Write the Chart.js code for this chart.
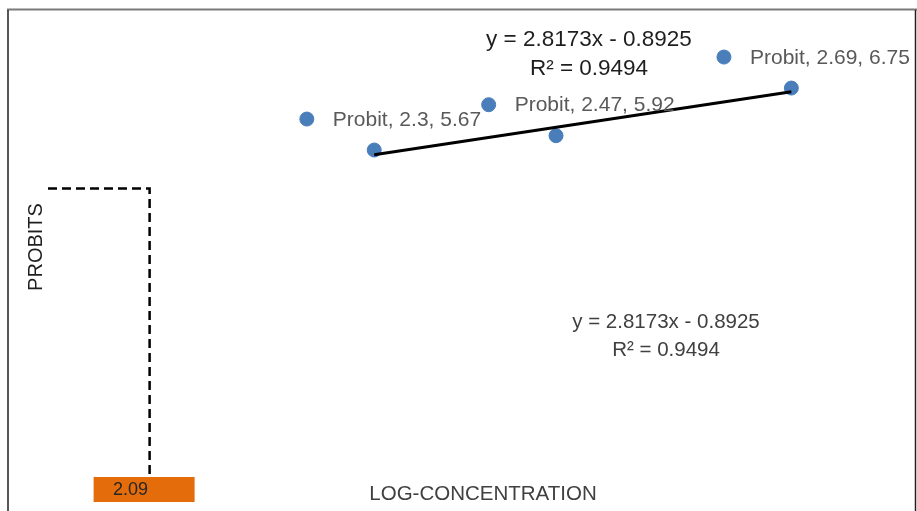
<!DOCTYPE html>
<html>
<head>
<meta charset="utf-8">
<script src="https://cdn.jsdelivr.net/npm/chart.js@4.4.1/dist/chart.umd.min.js"></script>
<style>
  html, body { margin: 0; padding: 0; background: #fff; }
  #wrap { position: relative; width: 917px; height: 511px; }
</style>
</head>
<body>
<div id="wrap"><canvas id="probitChart"></canvas></div>
<script>
// Probit regression data
const seriesName = 'Probit';
const logConc = [2.3, 2.47, 2.69];
const probits = [5.67, 5.92, 6.75];

// Fitted line y = slope * x + intercept
const slope = 2.8173;
const intercept = -0.8925;
const rSquared = 0.9494;

// LC50 read-off: probit 5 -> log concentration
const probitMid = 5;
const lc50Log = 2.09;

// Axis ranges
const xRange = [1.995, 2.8];
const yRange = [0, 8];
// Offset axes used by the labelled copy of the points
const xRangeLabelled = [2.058, 2.863];
const yRangeLabelled = [-0.54, 7.46];

const FONT = "'Liberation Sans', Arial, sans-serif";

const points = logConc.map((x, i) => ({ x, y: probits[i] }));
const trendEnds = [logConc[0], logConc[logConc.length - 1]];
const trendPoints = trendEnds.map(x => ({ x, y: slope * x + intercept }));
const lc50Path = [
    { x: xRange[0], y: probitMid },
    { x: lc50Log, y: probitMid },
    { x: lc50Log, y: yRange[0] },
];

const eqText = `y = ${slope}x - ${Math.abs(intercept)}`;
const r2Text = `R\u00B2 = ${rSquared}`;

const overlay = {
    id: 'overlay',
    beforeDraw(chart) {
        const ctx = chart.ctx;
        ctx.save();
        ctx.fillStyle = '#fff';
        ctx.fillRect(0, 0, chart.width, chart.height);
        // frame
        ctx.strokeStyle = '#7a7a7a';
        ctx.lineWidth = 2;
        ctx.beginPath();
        ctx.moveTo(7, 9.5);
        ctx.lineTo(917, 9.5);
        ctx.stroke();
        ctx.strokeStyle = '#202020';
        ctx.lineWidth = 1.5;
        ctx.beginPath();
        ctx.moveTo(8, 10);
        ctx.lineTo(8, 511);
        ctx.moveTo(915.5, 10);
        ctx.lineTo(915.5, 511);
        ctx.stroke();
        ctx.restore();
    },
    afterDatasetsDraw(chart) {
        const ctx = chart.ctx;
        const xs = chart.scales.x;
        ctx.save();

        // data labels next to the labelled points
        ctx.font = `21px ${FONT}`;
        ctx.fillStyle = '#595959';
        ctx.textAlign = 'left';
        ctx.textBaseline = 'middle';
        chart.getDatasetMeta(2).data.forEach((pt, i) => {
            ctx.fillText(`${seriesName}, ${logConc[i]}, ${probits[i]}`, pt.x + 26, pt.y + 1);
        });

        // trendline equations
        ctx.textAlign = 'center';
        ctx.font = `22.5px ${FONT}`;
        ctx.fillStyle = '#1e1e1e';
        ctx.fillText(eqText, 589, 40);
        ctx.fillText(r2Text, 589, 69);
        ctx.font = `20.5px ${FONT}`;
        ctx.fillStyle = '#404040';
        ctx.fillText(eqText, 666, 322);
        ctx.fillText(r2Text, 666, 350);

        // axis titles
        ctx.fillStyle = '#404040';
        ctx.font = `20.5px ${FONT}`;
        ctx.fillText('LOG-CONCENTRATION', 483, 494);
        ctx.save();
        ctx.translate(36, 247);
        ctx.rotate(-Math.PI / 2);
        ctx.fillStyle = '#1e1e1e';
        ctx.font = `20px ${FONT}`;
        ctx.fillText('PROBITS', 0, 0);
        ctx.restore();

        // LC50 value box
        const px = xs.getPixelForValue(lc50Log);
        ctx.fillStyle = '#e46c0a';
        ctx.fillRect(px - 56, 477, 101, 25);
        ctx.fillStyle = '#262626';
        ctx.font = `18px ${FONT}`;
        ctx.fillText(lc50Log.toFixed(2), px - 19, 490);

        ctx.restore();
    }
};

new Chart(document.getElementById('probitChart'), {
    type: 'scatter',
    data: {
        datasets: [
            {
                label: 'Linear (Probit)',
                data: trendPoints,
                showLine: true,
                borderColor: '#000',
                borderWidth: 3,
                pointRadius: 0,
                order: 0,
            },
            {
                label: seriesName,
                data: points,
                backgroundColor: '#4a7ebb',
                borderColor: '#4a7ebb',
                pointRadius: 7,
                order: 1,
            },
            {
                label: seriesName + ' (labelled)',
                data: points,
                xAxisID: 'x2',
                yAxisID: 'y2',
                backgroundColor: '#4a7ebb',
                borderColor: '#4a7ebb',
                pointRadius: 7,
                order: 1,
            },
            {
                label: 'LC50',
                data: lc50Path,
                showLine: true,
                borderColor: '#000',
                borderWidth: 2.5,
                borderDash: [9, 5],
                pointRadius: 0,
                clip: false,
                order: 2,
            },
        ],
    },
    options: {
        responsive: true,
        maintainAspectRatio: false,
        animation: false,
        events: [],
        layout: {
            padding: { left: 48, right: 3.3, top: 16.3, bottom: 35.5 },
        },
        plugins: {
            legend: { display: false },
            tooltip: { enabled: false },
        },
        scales: {
            x: { type: 'linear', display: false, min: xRange[0], max: xRange[1] },
            y: { type: 'linear', display: false, min: yRange[0], max: yRange[1] },
            x2: { type: 'linear', display: false, min: xRangeLabelled[0], max: xRangeLabelled[1] },
            y2: { type: 'linear', display: false, min: yRangeLabelled[0], max: yRangeLabelled[1] },
        },
    },
    plugins: [overlay],
});
</script>
</body>
</html>
